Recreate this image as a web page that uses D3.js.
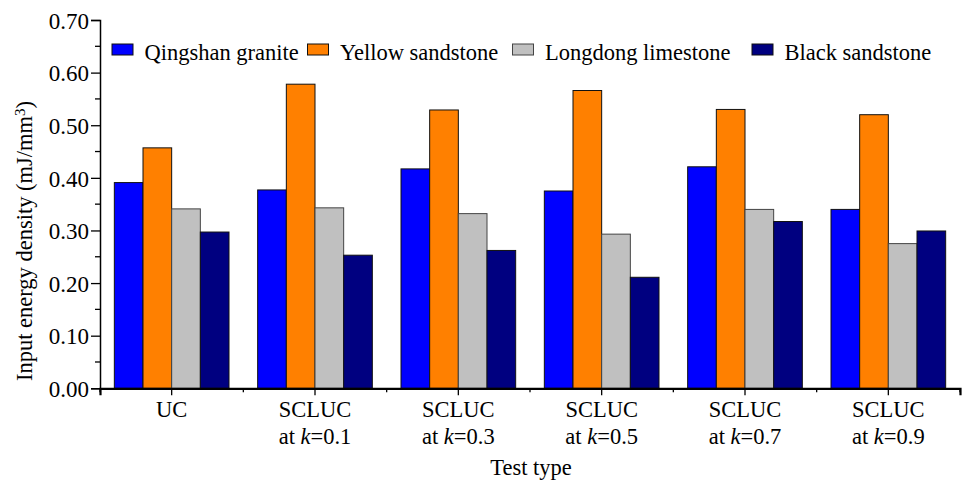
<!DOCTYPE html>
<html>
<head>
<meta charset="utf-8">
<script src="https://cdn.jsdelivr.net/npm/d3@7"></script>
<style>
  html, body { margin: 0; padding: 0; background: #fff; }
  svg { display: block; }
  text { font-family: "Liberation Serif", "Times New Roman", serif; fill: #000; }
</style>
</head>
<body>
<svg id="chart" width="964" height="482"></svg>
<script>
// Test types along the x axis (second line carries the k value)
const categories = ["UC", "SCLUC k=0.1", "SCLUC k=0.3", "SCLUC k=0.5", "SCLUC k=0.7", "SCLUC k=0.9"];
const labelLine1 = ["UC", "SCLUC", "SCLUC", "SCLUC", "SCLUC", "SCLUC"];
const labelK = [null, "0.1", "0.3", "0.5", "0.7", "0.9"];

// Rock types
const series = ["Qingshan granite", "Yellow sandstone", "Longdong limestone", "Black sandstone"];
const colors = ["#0000ff", "#ff8000", "#c0c0c0", "#000080"];

// Input energy density (mJ/mm^3) per rock type, in category order
const qingshanGranite   = [0.391, 0.377, 0.417, 0.375, 0.421, 0.340];
const yellowSandstone   = [0.457, 0.578, 0.529, 0.566, 0.530, 0.520];
const longdongLimestone = [0.341, 0.343, 0.332, 0.293, 0.340, 0.275];
const blackSandstone    = [0.297, 0.253, 0.262, 0.211, 0.317, 0.299];
const seriesValues = [qingshanGranite, yellowSandstone, longdongLimestone, blackSandstone];

const yTicks = [0, 0.1, 0.2, 0.3, 0.4, 0.5, 0.6, 0.7];
const yMinorTicks = [0.05, 0.15, 0.25, 0.35, 0.45, 0.55, 0.65];

const svg = d3.select("#chart");
const plotLeft = 100, plotRight = 960, plotTop = 20, plotBottom = 388.3;

const x = d3.scaleBand().domain(categories).range([plotLeft, plotRight])
  .paddingInner(0.2).paddingOuter(0.1);
const xs = d3.scaleBand().domain(series).range([0, x.bandwidth()]);
const y = d3.scaleLinear().domain([0, 0.7]).range([plotBottom, plotTop]);

// Bars
const groups = svg.append("g").selectAll("g")
  .data(categories)
  .join("g")
  .attr("transform", d => `translate(${x(d)},0)`);

groups.selectAll("rect")
  .data((c, i) => series.map((s, j) => ({ s, j, v: seriesValues[j][i] })))
  .join("rect")
  .attr("x", d => xs(d.s))
  .attr("y", d => y(d.v))
  .attr("width", xs.bandwidth())
  .attr("height", d => y(0) - y(d.v))
  .attr("fill", d => colors[d.j])
  .attr("stroke", d => d.j === 2 ? "#444" : "#111")
  .attr("stroke-width", 1);

// Y axis
const yAxis = svg.append("g")
  .attr("transform", `translate(${plotLeft},0)`)
  .call(d3.axisLeft(y).tickValues(yTicks).tickFormat(d3.format(".2f")).tickSize(9).tickPadding(2));
yAxis.select(".domain").attr("stroke-width", 1.5);
yAxis.selectAll(".tick line").attr("stroke-width", 1.3);
yAxis.selectAll(".tick text").style("font-size", "23px").attr("dy", "0.36em");

svg.append("g")
  .attr("transform", `translate(${plotLeft},0)`)
  .selectAll("line")
  .data(yMinorTicks)
  .join("line")
  .attr("x1", -5).attr("x2", 0)
  .attr("y1", d => y(d)).attr("y2", d => y(d))
  .attr("stroke", "#000").attr("stroke-width", 1.3);

// X axis
const xAxis = svg.append("g")
  .attr("transform", `translate(0,${plotBottom})`)
  .call(d3.axisBottom(x).tickSize(7).tickFormat(""));
xAxis.select(".domain").attr("stroke-width", 2.2);
xAxis.selectAll(".tick line").attr("stroke-width", 1.3);

// Minor ticks at category boundaries
const boundaries = d3.range(categories.length + 1).map(i => plotLeft + i * x.step());
svg.append("g")
  .attr("transform", `translate(0,${plotBottom})`)
  .selectAll("line")
  .data(boundaries)
  .join("line")
  .attr("x1", d => d).attr("x2", d => d)
  .attr("y1", 0).attr("y2", 4)
  .attr("stroke", "#000").attr("stroke-width", 1.3);

// Category labels (two lines, italic k)
const labels = svg.append("g").selectAll("text")
  .data(categories)
  .join("text")
  .attr("text-anchor", "middle")
  .style("font-size", "22.5px");
labels.append("tspan")
  .attr("x", d => x(d) + x.bandwidth() / 2)
  .attr("y", 417)
  .text((d, i) => labelLine1[i]);
labels.each(function (d, i) {
  if (!labelK[i]) return;
  const t = d3.select(this).append("tspan")
    .attr("x", x(d) + x.bandwidth() / 2)
    .attr("y", 443.5);
  t.append("tspan").text("at ");
  t.append("tspan").style("font-style", "italic").text("k");
  t.append("tspan").text("=" + labelK[i]);
});

// Axis titles
svg.append("text")
  .attr("x", (plotLeft + plotRight) / 2 + 1)
  .attr("y", 474.5)
  .attr("text-anchor", "middle")
  .style("font-size", "22.5px")
  .text("Test type");

const yTitle = svg.append("text")
  .attr("transform", "translate(31.5,241) rotate(-90)")
  .attr("text-anchor", "middle")
  .style("font-size", "22.5px");
yTitle.append("tspan").text("Input energy density (mJ/mm");
yTitle.append("tspan").attr("dy", "-0.45em").style("font-size", "15px").text("3");
yTitle.append("tspan").attr("dy", "0.3em").text(")");

// Legend
const legendX = [112, 307.5, 512.5, 752];
const legend = svg.append("g").selectAll("g")
  .data(series)
  .join("g")
  .attr("transform", (d, i) => `translate(${legendX[i]},44)`);
legend.append("rect")
  .attr("width", 21).attr("height", 11)
  .attr("fill", (d, i) => colors[i])
  .attr("stroke", (d, i) => i === 2 ? "#444" : "#111")
  .attr("stroke-width", 1);
legend.append("text")
  .attr("x", 32.5).attr("y", 15.5)
  .style("font-size", "22.5px")
  .text(d => d);
</script>
</body>
</html>
